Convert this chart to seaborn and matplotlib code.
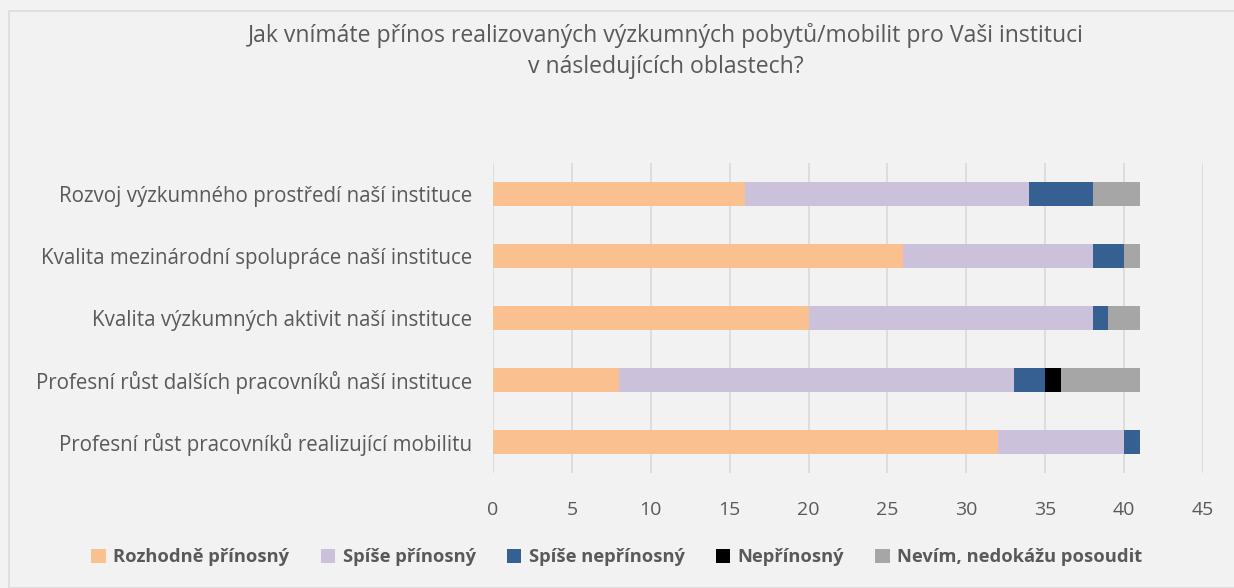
import matplotlib
matplotlib.use("Agg")
import matplotlib.pyplot as plt
import seaborn as sns
import numpy as np
import pandas as pd
from matplotlib.patches import Patch, Rectangle

categories = [
    "Rozvoj výzkumného prostředí naší instituce",
    "Kvalita mezinárodní spolupráce naší instituce",
    "Kvalita výzkumných aktivit naší instituce",
    "Profesní růst dalších pracovníků naší instituce",
    "Profesní růst pracovníků realizující mobilitu",
]
series_names = ["Rozhodně přínosný", "Spíše přínosný", "Spíše nepřínosný",
                "Nepřínosný", "Nevím, nedokážu posoudit"]
rozhodne = [16, 26, 20, 8, 32]
spise = [18, 12, 18, 25, 8]
spise_ne = [4, 2, 1, 2, 1]
neprinosny = [0, 0, 0, 1, 0]
nevim = [3, 1, 2, 5, 0]
colors = ["#FAC090", "#CCC1DA", "#366092", "#000000", "#A6A6A6"]

sns.set_theme(style="white")
plt.rcParams['font.family'] = ['Open Sans', 'DejaVu Sans']
txt = "#595959"

fig = plt.figure(figsize=(12.34, 5.88), dpi=100)
fig.patch.set_facecolor("#F2F2F2")
fig.patches.append(Rectangle((9/1234, 0), 1.0, 1-11/588, transform=fig.transFigure,
                             facecolor="none", edgecolor="#DCDCDC", linewidth=1.2, zorder=0))
ax = fig.add_axes([493/1234, 1-473/588, 710/1234, (473-163)/588])
ax.set_facecolor("#F2F2F2")

vals = [rozhodne, spise, spise_ne, neprinosny, nevim]
cum = np.cumsum(np.array(vals), axis=0)
for i in range(len(vals) - 1, -1, -1):
    df = pd.DataFrame({"cat": categories, "val": cum[i]})
    sns.barplot(data=df, x="val", y="cat", orient="h", color=colors[i],
                width=0.4, linewidth=0, saturation=1, ax=ax, order=categories)

ax.set_xlim(0, 45)
ax.set_ylim(4.5, -0.5)
ax.set_xticks(range(0, 46, 5))
ax.grid(axis="x", color="#D9D9D9", linewidth=1.2)
ax.set_axisbelow(True)
for s in ax.spines.values():
    s.set_visible(False)
ax.set_xlabel("")
ax.set_ylabel("")
ax.tick_params(axis="both", length=0, colors=txt)
ax.tick_params(axis="y", pad=15, labelsize=14.8)
ax.tick_params(axis="x", pad=20, labelsize=14)

fig.text(666/1234, 1-35/588, "Jak vnímáte přínos realizovaných výzkumných pobytů/mobilit pro Vaši instituci",
         ha="center", va="center", fontsize=16.6, color=txt)
fig.text(666/1234, 1-67/588, "v následujících oblastech?",
         ha="center", va="center", fontsize=16.6, color=txt)

handles = [Patch(facecolor=c, edgecolor="none") for c in colors]
leg = fig.legend(handles, series_names, loc="center", bbox_to_anchor=(617/1234, 1-557/588),
                 ncol=5, frameon=False, prop={"weight": "bold", "size": 13.2},
                 handlelength=0.8, handleheight=0.8, handletextpad=0.4, columnspacing=1.7)
for t in leg.get_texts():
    t.set_color(txt)

fig.savefig("out.png", dpi=100, facecolor=fig.get_facecolor())
